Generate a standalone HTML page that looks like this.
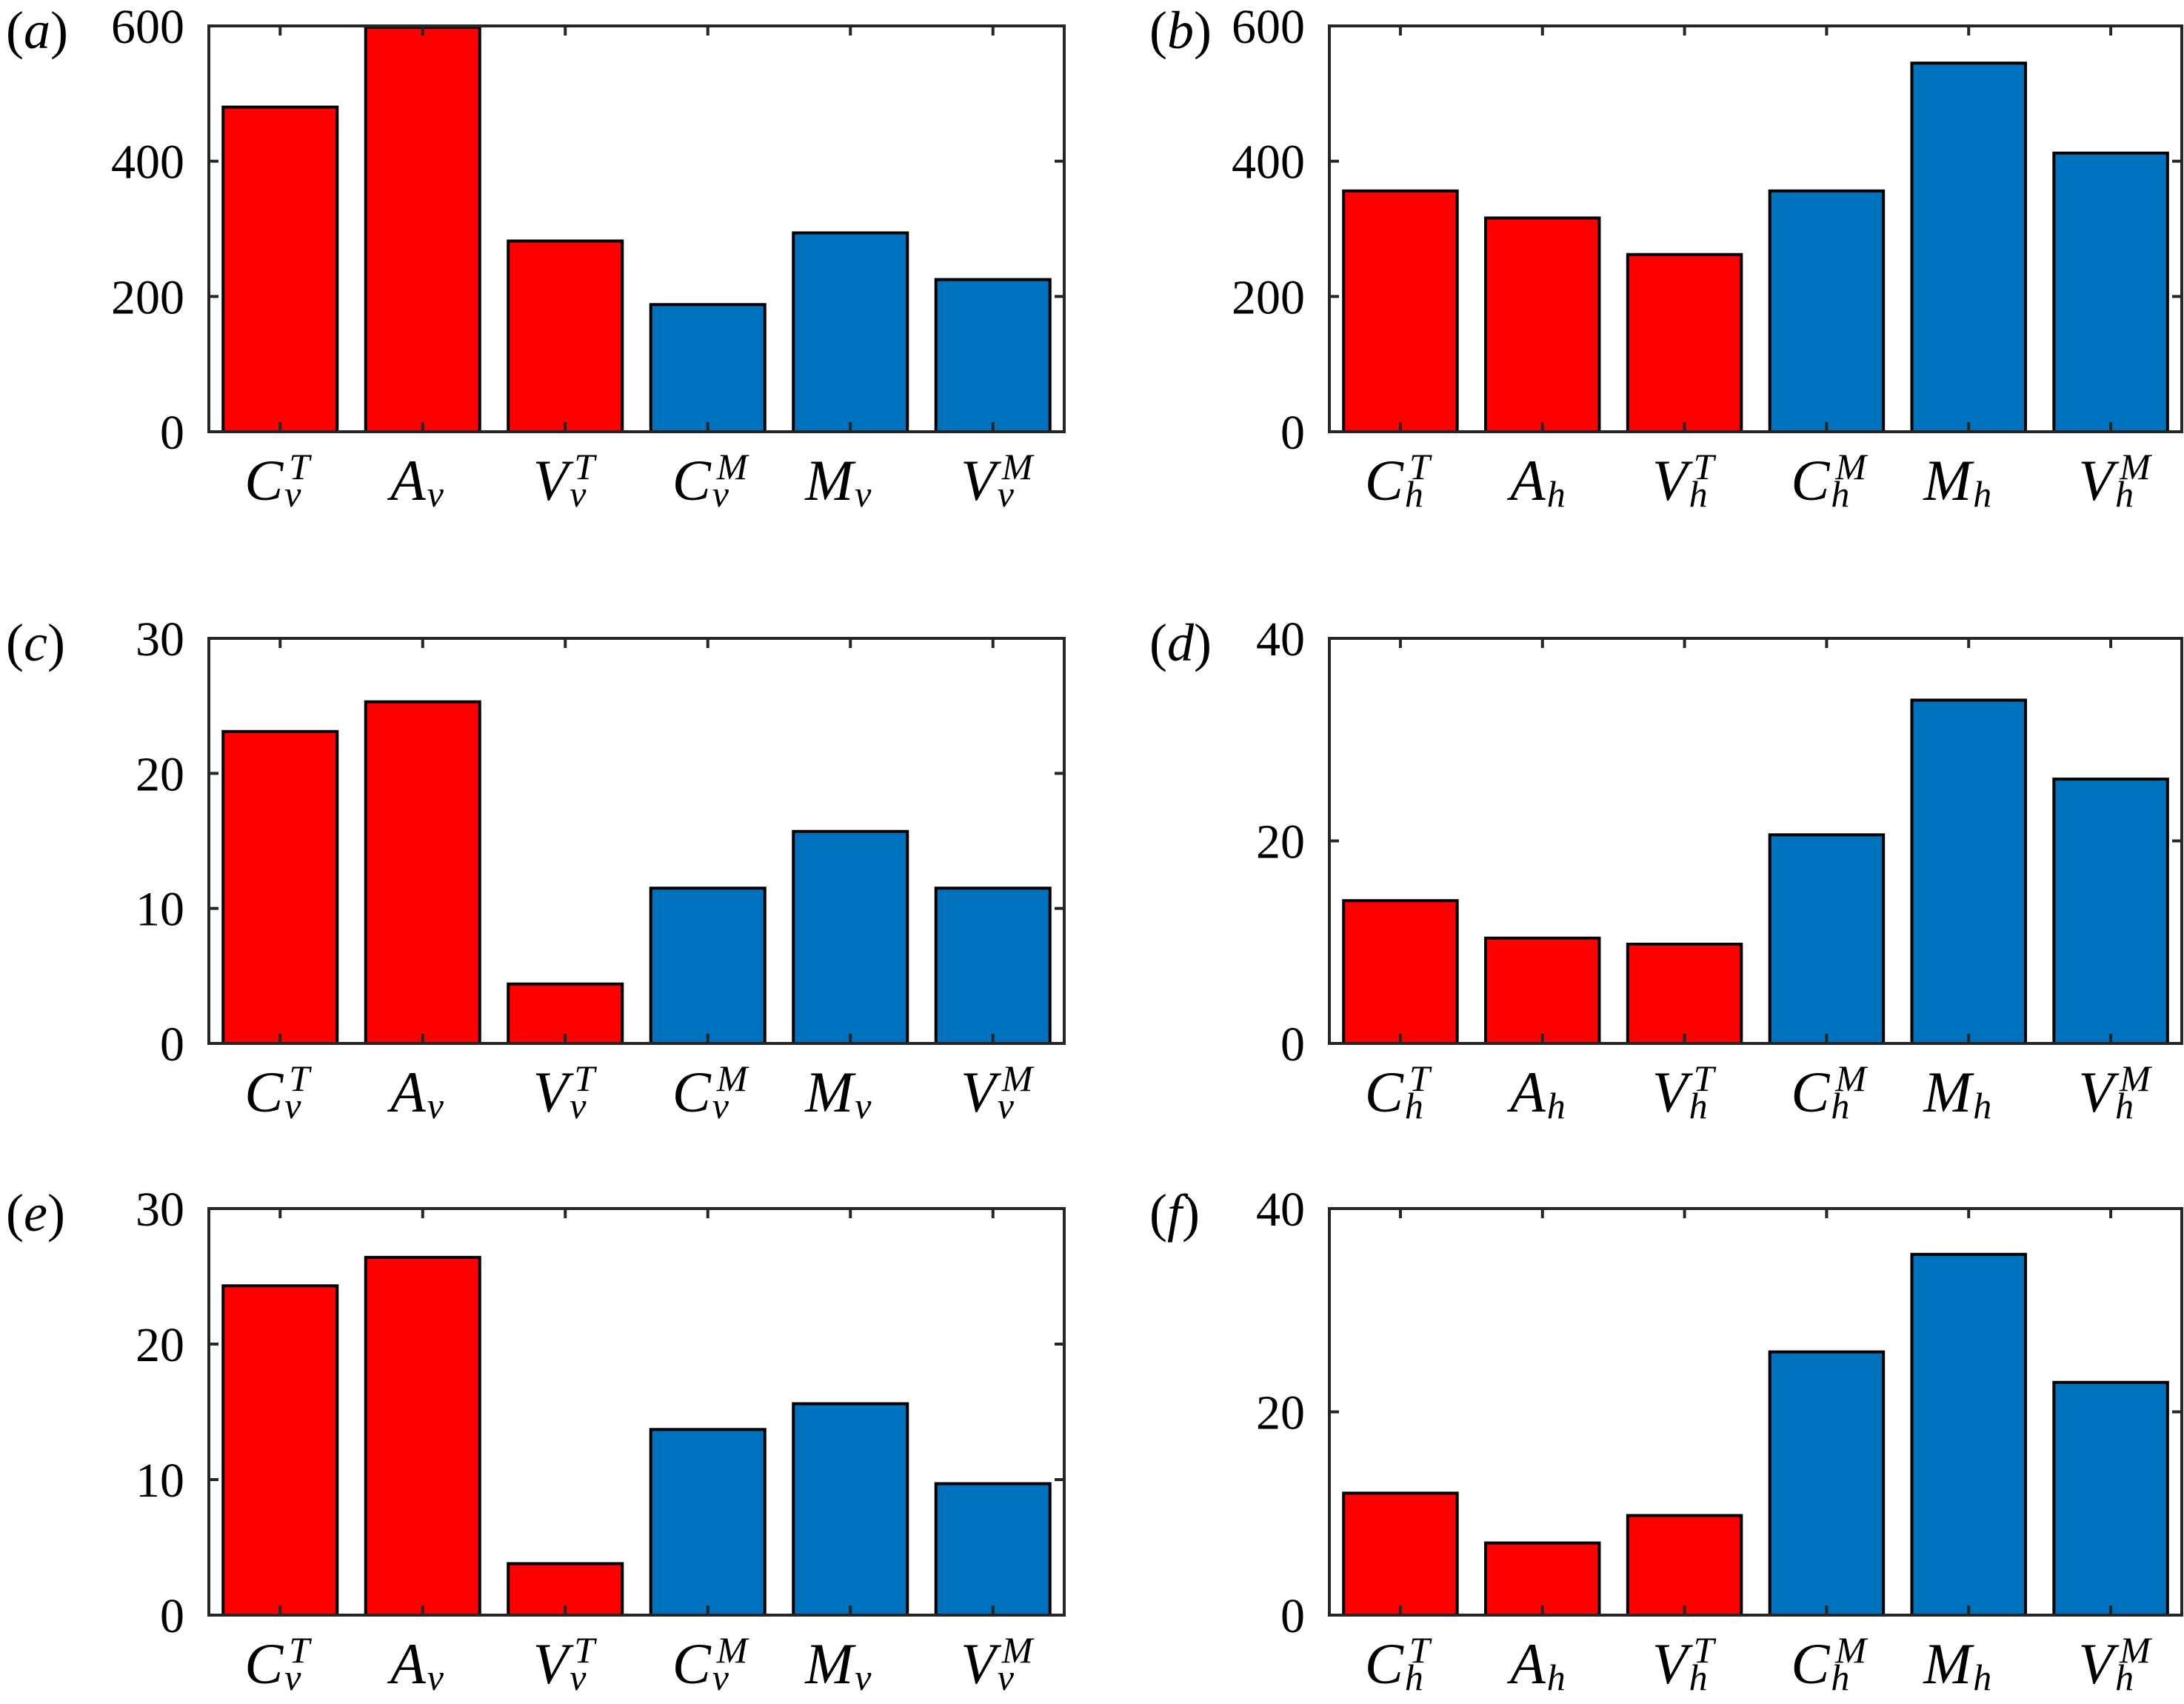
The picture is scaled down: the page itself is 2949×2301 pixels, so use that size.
<!DOCTYPE html>
<html><head><meta charset="utf-8"><style>
html,body{margin:0;padding:0;background:#fff;}
svg{display:block;}
text{font-family:"Liberation Serif","Times New Roman",serif;fill:#000;}
</style></head>
<body>
<svg id="fig" width="2949" height="2301" viewBox="0 0 2949 2301" xmlns="http://www.w3.org/2000/svg"></svg>
<script>
const catsV = [["C","v","T"],["A","v",""],["V","v","T"],["C","v","M"],["M","v",""],["V","v","M"]];
const catsH = [["C","h","T"],["A","h",""],["V","h","T"],["C","h","M"],["M","h",""],["V","h","M"]];
const barColors = ["#FF0000","#FF0000","#FF0000","#0072BD","#0072BD","#0072BD"];
const valuesA = [480, 598, 282, 188, 294, 225];
const valuesB = [356, 316, 262, 356, 545, 412];
const valuesC = [23.1, 25.3, 4.4, 11.5, 15.7, 11.5];
const valuesD = [14.1, 10.4, 9.8, 20.6, 33.9, 26.1];
const valuesE = [24.3, 26.4, 3.8, 13.7, 15.6, 9.7];
const valuesF = [12.0, 7.1, 9.8, 25.9, 35.5, 22.9];
const ticksA = [0, 200, 400, 600];
const ticksB = [0, 200, 400, 600];
const ticksC = [0, 10, 20, 30];
const ticksD = [0, 20, 40];
const ticksE = [0, 10, 20, 30];
const ticksF = [0, 20, 40];
const panelLetters = ["a","b","c","d","e","f"];

const NS = "http://www.w3.org/2000/svg";
const svg = document.getElementById("fig");
function mk(tag, attrs, parent){
  const e = document.createElementNS(NS, tag);
  for (const k in attrs) e.setAttribute(k, attrs[k]);
  (parent||svg).appendChild(e);
  return e;
}
const panels = [
  {x0:282, x1:1437, y0:35, y1:583, vals:valuesA, ticks:ticksA, cats:catsV},
  {x0:1795, x1:2946, y0:35, y1:583, vals:valuesB, ticks:ticksB, cats:catsH},
  {x0:282, x1:1437, y0:862, y1:1409, vals:valuesC, ticks:ticksC, cats:catsV},
  {x0:1795, x1:2946, y0:862, y1:1409, vals:valuesD, ticks:ticksD, cats:catsH},
  {x0:282, x1:1437, y0:1632, y1:2181, vals:valuesE, ticks:ticksE, cats:catsV},
  {x0:1795, x1:2946, y0:1632, y1:2181, vals:valuesF, ticks:ticksF, cats:catsH}
];
panels.forEach((p, pi) => {
  const g = mk("g", {});
  
  
  const ymax = p.ticks[p.ticks.length-1];
  const yS = v => p.y1 - v / ymax * (p.y1 - p.y0);
  const slot = (p.x1 - p.x0) / p.vals.length;
  const xC = i => p.x0 + slot * (i + 0.5);
  const bw = slot * 0.8;
  p.vals.forEach((v, i) => {
    const r = mk("rect", {x: xC(i) - bw/2, y: yS(v), width: bw, height: yS(0) - yS(v),
      fill: barColors[i], stroke: "#000", "stroke-width": 4}, g);
    
    
  });
  p.cats.forEach((c, i) => {
    const x = xC(i);
    mk("line", {x1:x, x2:x, y1:p.y1, y2:p.y1-13, stroke:"#262626", "stroke-width":4}, g);
    mk("line", {x1:x, x2:x, y1:p.y0, y2:p.y0+13, stroke:"#262626", "stroke-width":4}, g);
    const lg = mk("g", {}, g);
    
    
    const t = mk("text", {x:x+4, y:p.y1+92, "text-anchor":"end", "font-size":78, "font-style":"italic"}, lg);
    t.textContent = c[0];
    const s1 = mk("text", {x:x+6, y:p.y1+101, "font-size":50, "font-style":"italic"}, lg);
    s1.textContent = c[1];
    if (c[2]) {
      const s2 = mk("text", {x:x+12, y:p.y1+64, "font-size":50, "font-style":"italic"}, lg);
      s2.textContent = c[2];
    }
  });
  p.ticks.forEach(v => {
    const y = yS(v);
    mk("line", {x1:p.x0, x2:p.x0+13, y1:y, y2:y, stroke:"#262626", "stroke-width":4}, g);
    mk("line", {x1:p.x1, x2:p.x1-13, y1:y, y2:y, stroke:"#262626", "stroke-width":4}, g);
    const t = mk("text", {x:p.x0-33, y:y+23, "text-anchor":"end", "font-size":66}, g);
    
    
    t.textContent = v;
  });
  const frame = mk("rect", {x:p.x0, y:p.y0, width:p.x1-p.x0, height:p.y1-p.y0, fill:"none", stroke:"#262626", "stroke-width":4}, g);
  
  
  const lx = pi % 2 === 0 ? 8 : 1552;
  const lab = mk("text", {x:lx, y:p.y0+30, "font-size":72}, g);
  
  
  lab.appendChild(document.createTextNode("("));
  const it = mk("tspan", {"font-style":"italic"}, lab); it.textContent = panelLetters[pi];
  lab.appendChild(document.createTextNode(")"));
});
</script>
</body></html>
